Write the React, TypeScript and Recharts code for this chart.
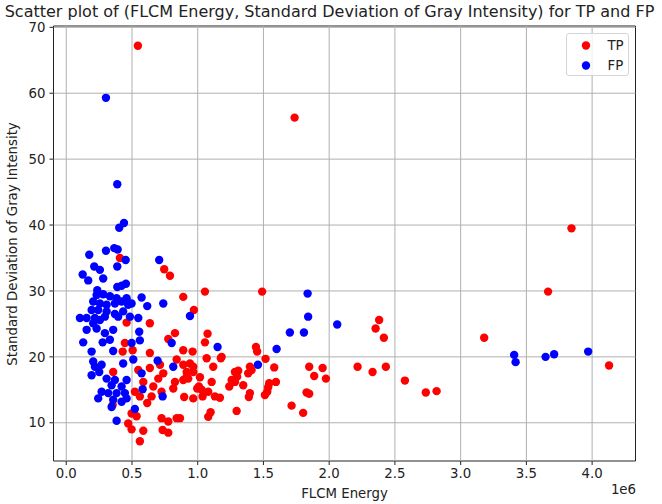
import React from 'react';
import { ScatterChart, Scatter, XAxis, YAxis, ReferenceLine, ReferenceArea } from 'recharts';

// FLCM energy (raw units) and grey-level standard deviation per detection
const tpEnergy = [
  545000, 1737000, 3843000, 408000, 745000, 789000, 890000, 1055000, 1490000, 3665000,
  971000, 636000, 459000, 2380000, 2353000, 2416000, 3179000, 2216000, 2330000, 2431000,
  2576000, 2735000, 2817000, 4129000, 1075000, 1055000, 827000, 776000, 1443000, 1452000,
  1516000, 1582000, 1176000, 1068000, 1118000, 1397000, 1410000, 1848000, 1950000, 1886000,
  1975000, 1283000, 1300000, 1258000, 1017000, 1106000, 1544000, 1595000, 1346000, 1240000,
  1009000, 1080000, 1397000, 1389000, 1529000, 1511000, 1828000, 1848000, 897000, 966000,
  1037000, 1131000, 1169000, 1296000, 1714000, 1802000, 1098000, 1080000, 725000, 776000,
  840000, 733000, 776000, 890000, 961000, 1182000, 890000, 941000, 966000, 916000,
  966000, 890000, 928000, 1308000, 1384000, 1283000, 1536000, 996000, 1030000, 865000,
  446000, 505000, 636000, 429000, 840000, 713000, 548000, 636000, 738000, 700000,
  916000, 827000, 586000, 357000, 662000, 814000, 725000, 522000, 560000, 649000,
  616000, 353000, 497000, 535000, 471000, 497000, 586000, 560000,
];
const tpStd = [
  67.2, 56.3, 39.5, 35.0, 33.3, 32.3, 29.1, 29.9, 29.9, 29.9,
  27.1, 25.1, 25.2, 25.6, 24.3, 22.9, 22.9, 18.5, 17.7, 18.5,
  16.4, 14.6, 14.8, 18.7, 23.5, 22.2, 23.6, 22.7, 21.5, 20.8,
  19.7, 18.4, 19.8, 19.8, 18.5, 18.5, 18.0, 18.5, 18.3, 17.1,
  16.7, 17.7, 17.0, 16.5, 16.9, 16.2, 16.0, 16.2, 15.7, 15.5,
  15.5, 14.7, 14.5, 13.9, 14.7, 14.2, 14.6, 14.4, 13.9, 13.7,
  14.0, 14.0, 13.8, 11.8, 12.6, 11.5, 11.6, 10.9, 10.7, 10.2,
  10.7, 8.9, 8.5, 21.0, 20.8, 20.0, 18.8, 19.0, 18.5, 17.7,
  17.7, 16.5, 16.7, 17.9, 17.5, 16.2, 15.4, 15.2, 15.0, 10.7,
  22.1, 21.0, 20.6, 20.8, 19.6, 18.8, 18.0, 18.3, 17.5, 16.7,
  17.0, 16.2, 16.2, 17.7, 15.5, 15.2, 14.7, 14.7, 14.0, 14.0,
  13.0, 12.7, 11.4, 11.0, 9.9, 9.0, 8.8, 7.2,
];

const fpEnergy = [
  302000, 388000, 439000, 403000, 175000, 302000, 365000, 391000, 452000, 388000,
  707000, 213000, 256000, 125000, 167000, 281000, 454000, 388000, 421000, 236000,
  738000, 616000, 573000, 941000, 231000, 281000, 332000, 383000, 459000, 205000,
  256000, 307000, 370000, 421000, 471000, 497000, 193000, 243000, 307000, 370000,
  433000, 104000, 155000, 218000, 294000, 395000, 484000, 548000, 205000, 256000,
  155000, 231000, 294000, 357000, 555000, 129000, 277000, 332000, 497000, 560000,
  193000, 357000, 802000, 695000, 814000, 510000, 205000, 269000, 218000, 433000,
  193000, 251000, 307000, 370000, 573000, 459000, 421000, 345000, 269000, 319000,
  383000, 446000, 243000, 357000, 421000, 459000, 345000, 581000, 733000, 522000,
  383000, 1151000, 1458000, 1600000, 1701000, 1808000, 1840000, 1836000, 2061000, 3407000,
  3418000, 3646000, 3711000, 3970000,
];
const fpStd = [
  59.3, 46.2, 40.3, 39.6, 35.5, 36.1, 36.5, 36.3, 34.7, 33.7,
  34.7, 33.7, 33.2, 32.5, 31.6, 31.9, 31.1, 30.6, 30.8, 30.1,
  28.1, 27.7, 29.0, 26.2, 29.4, 29.5, 29.2, 28.9, 28.9, 28.4,
  28.1, 27.9, 28.1, 28.4, 27.9, 28.1, 27.1, 27.1, 26.9, 26.5,
  26.9, 25.9, 25.9, 25.9, 26.1, 26.1, 26.1, 25.9, 25.1, 25.6,
  24.1, 24.3, 23.6, 24.1, 23.8, 22.2, 22.2, 22.6, 22.1, 22.5,
  20.8, 20.9, 22.1, 19.4, 18.5, 19.6, 19.3, 18.8, 18.5, 19.0,
  17.2, 17.7, 16.7, 16.5, 17.5, 16.5, 15.5, 15.7, 14.7, 14.5,
  14.5, 14.5, 13.7, 13.5, 13.2, 13.7, 12.4, 15.1, 14.0, 12.1,
  10.3, 21.5, 18.8, 21.2, 23.7, 23.7, 26.1, 29.6, 24.9, 20.3,
  19.2, 20.0, 20.4, 20.8,
];

const xTicks = [0, 500000, 1000000, 1500000, 2000000, 2500000, 3000000, 3500000, 4000000];
const yTicks = [10, 20, 30, 40, 50, 60, 70];
const xDomain: [number, number] = [-97000, 4330000];
const yDomain: [number, number] = [4.2, 70.2];

const tpData = tpEnergy.map((x, i) => ({ x, y: tpStd[i] }));
const fpData = fpEnergy.map((x, i) => ({ x, y: fpStd[i] }));

const FONT = '"DejaVu Sans", sans-serif';
const TEXT = '#222';
const LABEL_SIZE = 13.3;
const tickStyle = { fill: TEXT, fontSize: LABEL_SIZE, fontFamily: FONT };

const dot = (color: string) => (props: any) => (
  <circle cx={props.cx} cy={props.cy} r={4.2} fill={color} />
);

export default function App() {
  return (
    <div style={{ position: 'absolute', left: 0, top: 0, width: 662, height: 504, background: '#fff', fontFamily: FONT }}>
      <ScatterChart width={662} height={504} margin={{ top: 26, right: 26.5, bottom: 0, left: 0 }}>
        <XAxis
          type="number"
          dataKey="x"
          domain={xDomain}
          ticks={xTicks}
          allowDataOverflow
          tickFormatter={(v: number) => (v / 1e6).toFixed(1)}
          tick={tickStyle}
          tickSize={4}
          tickMargin={4}
          tickLine={{ stroke: '#222' }}
          axisLine={false}
          height={43}
        />
        <YAxis
          type="number"
          dataKey="y"
          domain={yDomain}
          ticks={yTicks}
          allowDataOverflow
          tick={tickStyle}
          tickSize={4}
          tickMargin={4}
          tickLine={{ stroke: '#222' }}
          axisLine={false}
          width={53.5}
        />
        <Scatter data={tpData} fill="#ff0000" shape={dot('#ff0000')} isAnimationActive={false} />
        <Scatter data={fpData} fill="#0000ff" shape={dot('#0000ff')} isAnimationActive={false} />
        {xTicks.map((t) => (
          <ReferenceLine key={'gx' + t} x={t} stroke="#b0b0b0" strokeWidth={1} />
        ))}
        {yTicks.map((t) => (
          <ReferenceLine key={'gy' + t} y={t} stroke="#b0b0b0" strokeWidth={1} />
        ))}
        <ReferenceArea
          x1={xDomain[0]}
          x2={xDomain[1]}
          y1={yDomain[0]}
          y2={yDomain[1]}
          fill="none"
          fillOpacity={0}
          stroke="#222"
          strokeWidth={1}
          ifOverflow="visible"
        />
      </ScatterChart>

      <div style={{ position: 'absolute', left: 329.5, top: 2, transform: 'translateX(-50%)', whiteSpace: 'nowrap', fontSize: 16, color: TEXT, lineHeight: '20px' }}>
        Scatter plot of (FLCM Energy, Standard Deviation of Gray Intensity) for TP and FP
      </div>
      <div style={{ position: 'absolute', left: 344.5, top: 485, transform: 'translateX(-50%)', whiteSpace: 'nowrap', fontSize: LABEL_SIZE, color: TEXT, lineHeight: '17px' }}>
        FLCM Energy
      </div>
      <div style={{ position: 'absolute', right: 662 - 636, top: 481, whiteSpace: 'nowrap', fontSize: LABEL_SIZE, color: TEXT, lineHeight: '17px' }}>
        1e6
      </div>
      <div style={{ position: 'absolute', left: 12, top: 243.5, transform: 'translate(-50%, -50%) rotate(-90deg)', whiteSpace: 'nowrap', fontSize: LABEL_SIZE, color: TEXT, lineHeight: '17px' }}>
        Standard Deviation of Gray Intensity
      </div>

      <div style={{ position: 'absolute', left: 566, top: 33, width: 63, height: 43, boxSizing: 'border-box', border: '1px solid #d6d6d6', borderRadius: 3, background: 'rgba(255,255,255,0.8)' }}>
        {[
          { name: 'TP', color: '#ff0000', top: 3 },
          { name: 'FP', color: '#0000ff', top: 22.5 },
        ].map((e) => (
          <div key={e.name} style={{ position: 'absolute', left: 0, top: e.top, height: 17, width: 61 }}>
            <svg width={30} height={17} style={{ position: 'absolute', left: 10, top: 0 }}>
              <circle cx={9} cy={8.5} r={4.2} fill={e.color} />
            </svg>
            <span style={{ position: 'absolute', left: 40.5, top: 0, fontSize: LABEL_SIZE, lineHeight: '17px', color: TEXT }}>{e.name}</span>
          </div>
        ))}
      </div>
    </div>
  );
}
